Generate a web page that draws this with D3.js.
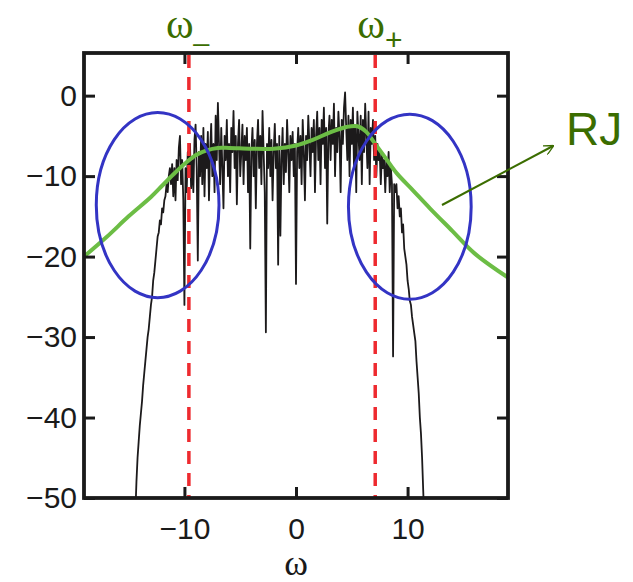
<!DOCTYPE html>
<meta charset="utf-8">
<style>
    body { margin: 0; background: #fff; }
    svg { display: block; }
    .tick text { font-family: 'Liberation Sans', Arial, sans-serif; }
</style>
<svg width="633" height="582"></svg>
<script src="https://d3js.org/d3.v7.min.js"></script>
<script>
    // axis limits and ticks
    var xDomain = [-19, 19];
    var yDomain = [-50, 5.3];
    var xTicks = [-10, 0, 10];
    var yTicks = [0, -10, -20, -30, -40, -50];

    // the two cut frequencies (red dashed lines)
    var omegaMinus = -9.6;
    var omegaPlus = 7.1;

    // measured spectrum, sampled every 0.1 starting at omega = -14.4
    var specStart = -14.4;
    var specStep = 0.1;
    var specValues = [
        -52, -48, -45, -43, -41, -39.5, -38, -36, -34.5, -33,
        -31.5, -30, -29, -27.5, -26, -25, -23, -22, -20.5, -19,
        -17.5, -17, -15.5, -16, -14, -14.5, -13, -12.5, -11, -12,
        -10, -9, -11, -8.5, -12.5, -9, -13, -8, -10.5, -6.5,
        -5, -11, -8, -13, -26, -9, -12, -7, -10, -6,
        -11.5, -8, -12, -5.5, -3.6, -9, -20.5, -7, -10, -5,
        -11, -4, -12.5, -6, -9, -4.5, -13, -7, -3.5, -10,
        -6, -12, -2.5, -8, -0.9, -6, -11, -4, -9, -14,
        -5, -8, -3, -10, -6, -12, -4, -7, -1.9, -9,
        -5, -13.5, -6, -3, -10, -7, -3.6, -11, -5, -8,
        -4, -12, -6, -19, -7, -4, -10, -5.5, -14, -6,
        -3, -9, -5, -11, -1.9, -7, -12, -29.4, -6, -9,
        -4, -10, -5.5, -13, -7, -3.5, -9, -6, -21, -5,
        -17.4, -8, -4, -11, -6, -9.5, -3, -7, -12, -5,
        -8, -4.5, -10, -6, -23.4, -7, -4, -9, -5, -11,
        -3, -7, -13, -5, -8, -2.5, -6, -10, -4, -7,
        -3, -12, -5, -2, -8, -4, -11, -3, -6, -1.5,
        -9, -4, -15.9, -5, -2.5, -8, -3, -6, -1, -10,
        -4, -7, -2, -5, -12, -3, -6, -1.5, 0.4, -4,
        -8, -2.5, -10, -3, -6, -1.5, -9, -4, -12, -2,
        -5, -8, -2.5, -11, -3, -7, -1, -5, -9, -2,
        -11, -4, -6, -3, -8, -5, -10, -6, -8, -7,
        -11, -7, -9, -8, -12, -8, -10, -7, -12, -9,
        -11, -32.4, -11, -12, -11, -14, -12.5, -15, -14, -17,
        -16, -19, -20, -21, -23, -24, -25.5, -26, -27.5, -28.5,
        -29.5, -30.5, -33, -35, -37, -40, -42, -45, -49, -53
    ];

    // smooth RJ curve
    var rjOmega = [-19, -17, -15, -13, -12, -11, -10, -9, -8, -7, -6, -4, -2, 0, 1.5, 3, 4.5, 5.5, 6.3, 7, 8, 9, 10.5, 12, 14, 16, 19];
    var rjValue = [-20, -17.6, -15, -12.6, -11.2, -9.8, -8.5, -7.4, -6.8, -6.5, -6.5, -6.6, -6.6, -6.2, -5.5, -4.6, -3.9, -3.8, -4.5, -5.8, -7.7, -9.6, -11.8, -14, -16.8, -19.6, -22.6];

    // the two highlighted regions: centre and half widths in data units
    var ellipseCx = [-12.4, 10.2];
    var ellipseCy = [-13.6, -13.8];
    var ellipseRx = [5.5, 5.5];
    var ellipseRy = [11.5, 11.5];

    var svg = d3.select("svg"),
        margin = {top: 53, right: 125, bottom: 84, left: 84},
        width = +svg.attr("width") - margin.left - margin.right,
        height = +svg.attr("height") - margin.top - margin.bottom,
        g = svg.append("g").attr("transform", "translate(" + margin.left + "," + margin.top + ")");

    var x = d3.scaleLinear().domain(xDomain).range([0, width]);
    var y = d3.scaleLinear().domain(yDomain).range([height, 0]);

    svg.append("defs").append("clipPath").attr("id", "clip")
        .append("rect").attr("width", width).attr("height", height);

    var plot = g.append("g").attr("clip-path", "url(#clip)");

    // spectrum
    var spec = specValues.map(function(v, i) { return [specStart + i * specStep, v]; });
    plot.append("path")
        .datum(spec)
        .attr("fill", "none")
        .attr("stroke", "#1c1a1b")
        .attr("stroke-width", 1.8)
        .attr("stroke-linejoin", "round")
        .attr("d", d3.line().x(function(d) { return x(d[0]); }).y(function(d) { return y(d[1]); }));

    // RJ curve
    plot.append("path")
        .datum(rjOmega.map(function(w, i) { return [w, rjValue[i]]; }))
        .attr("fill", "none")
        .attr("stroke", "#6cbd45")
        .attr("stroke-width", 4)
        .attr("d", d3.line().curve(d3.curveCatmullRom).x(function(d) { return x(d[0]); }).y(function(d) { return y(d[1]); }));

    // cut frequencies
    g.selectAll(".cut")
        .data([omegaMinus, omegaPlus])
        .enter().append("line")
        .attr("class", "cut")
        .attr("x1", function(d) { return x(d); })
        .attr("x2", function(d) { return x(d); })
        .attr("y1", 2)
        .attr("y2", height)
        .attr("stroke", "#ee2a2f")
        .attr("stroke-width", 3.5)
        .attr("stroke-dasharray", "13,9");

    // ellipses
    g.selectAll(".region")
        .data(ellipseCx)
        .enter().append("ellipse")
        .attr("class", "region")
        .attr("cx", function(d) { return x(d); })
        .attr("cy", function(d, i) { return y(ellipseCy[i]); })
        .attr("rx", function(d, i) { return x(ellipseRx[i]) - x(0); })
        .attr("ry", function(d, i) { return y(0) - y(ellipseRy[i]); })
        .attr("fill", "none")
        .attr("stroke", "#3334c4")
        .attr("stroke-width", 3);

    // axes, matlab style box with inward ticks
    function styleAxis(sel) {
        sel.select(".domain").remove();
        sel.selectAll(".tick line").attr("stroke", "#1a1a1a").attr("stroke-width", 3);
        sel.selectAll(".tick text").attr("fill", "#1a1a1a").attr("font-size", "30px");
    }
    var fmt = function(d) { return d < 0 ? "\u2212" + Math.abs(d) : d; };

    g.append("g")
        .attr("transform", "translate(0," + height + ")")
        .call(d3.axisBottom(x).tickValues(xTicks).tickSize(-11).tickPadding(20).tickFormat(fmt))
        .call(styleAxis);
    g.append("g")
        .call(d3.axisTop(x).tickValues(xTicks).tickSize(-11).tickFormat(""))
        .call(styleAxis);
    g.append("g")
        .call(d3.axisLeft(y).tickValues(yTicks).tickSize(-11).tickPadding(7).tickFormat(fmt))
        .call(styleAxis);
    g.append("g")
        .attr("transform", "translate(" + width + ",0)")
        .call(d3.axisRight(y).tickValues(yTicks).tickSize(-11).tickFormat(""))
        .call(styleAxis);

    g.append("rect")
        .attr("width", width)
        .attr("height", height)
        .attr("fill", "none")
        .attr("stroke", "#1a1a1a")
        .attr("stroke-width", 3.8);

    // x axis label
    svg.append("text")
        .attr("x", margin.left + x(0))
        .attr("y", 575)
        .attr("text-anchor", "middle")
        .attr("font-family", "'Liberation Serif', serif")
        .attr("font-size", "36px")
        .attr("fill", "#1a1a1a")
        .text("\u03c9");

    // cut frequency labels
    var green = "#3b6d00";
    var lm = svg.append("text")
        .attr("x", margin.left + x(omegaMinus) - 23)
        .attr("y", 38)
        .attr("font-family", "'Liberation Serif', serif")
        .attr("font-size", "42px")
        .attr("fill", green);
    lm.append("tspan").text("\u03c9");
    lm.append("tspan").attr("font-family", "'Liberation Sans', sans-serif").attr("font-size", "28px").attr("dy", 2).text("_");

    var lp = svg.append("text")
        .attr("x", margin.left + x(omegaPlus) - 18)
        .attr("y", 38)
        .attr("font-family", "'Liberation Serif', serif")
        .attr("font-size", "42px")
        .attr("fill", green);
    lp.append("tspan").text("\u03c9");
    lp.append("tspan").attr("font-family", "'Liberation Sans', sans-serif").attr("font-size", "30px").attr("dy", 12).text("+");

    // RJ annotation with arrow
    svg.append("defs").append("marker")
        .attr("id", "arrow")
        .attr("viewBox", "0 0 10 10")
        .attr("refX", 9).attr("refY", 5)
        .attr("markerWidth", 10).attr("markerHeight", 10)
        .attr("markerUnits", "userSpaceOnUse")
        .attr("orient", "auto")
        .append("path")
        .attr("d", "M0,0 L10,5 L0,10")
        .attr("fill", "none")
        .attr("stroke", green)
        .attr("stroke-width", 1.3);

    svg.append("line")
        .attr("x1", 442).attr("y1", 205)
        .attr("x2", 553).attr("y2", 146)
        .attr("stroke", green)
        .attr("stroke-width", 2)
        .attr("marker-end", "url(#arrow)");

    svg.append("text")
        .attr("x", 566)
        .attr("y", 145)
        .attr("font-family", "'Liberation Sans', Arial, sans-serif")
        .attr("font-size", "46px")
        .attr("fill", green)
        .text("RJ");
</script>
